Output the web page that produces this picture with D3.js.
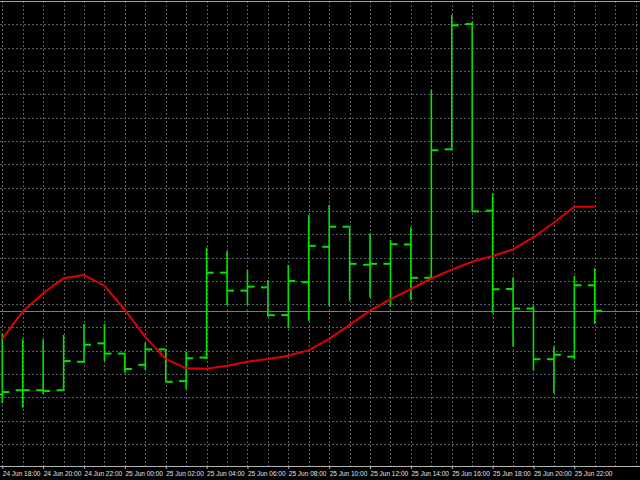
<!DOCTYPE html>
<html>
<head>
<meta charset="utf-8">
<script src="https://cdn.jsdelivr.net/npm/d3@7"></script>
<style>
  html, body { margin: 0; padding: 0; background: #000; }
  svg { display: block; }
</style>
</head>
<body>
<svg id="chart" width="640" height="480"></svg>
<script>
// ---- Data (hourly OHLC bars, values in arbitrary price units) ----
const times = [
  "2014-06-24T18:00Z","2014-06-24T19:00Z","2014-06-24T20:00Z","2014-06-24T21:00Z","2014-06-24T22:00Z","2014-06-24T23:00Z",
  "2014-06-25T00:00Z","2014-06-25T01:00Z","2014-06-25T02:00Z","2014-06-25T03:00Z","2014-06-25T04:00Z","2014-06-25T05:00Z",
  "2014-06-25T06:00Z","2014-06-25T07:00Z","2014-06-25T08:00Z","2014-06-25T09:00Z","2014-06-25T10:00Z","2014-06-25T11:00Z",
  "2014-06-25T12:00Z","2014-06-25T13:00Z","2014-06-25T14:00Z","2014-06-25T15:00Z","2014-06-25T16:00Z","2014-06-25T17:00Z",
  "2014-06-25T18:00Z","2014-06-25T19:00Z","2014-06-25T20:00Z","2014-06-25T21:00Z","2014-06-25T22:00Z","2014-06-25T23:00Z"
];
const open  = [31.3,33.1,33.1,33.1,45.3,53.2,48.8,44.0,50.6,37.0,47.1,83.5,75.8,77.2,65.3,79.4,94.6,103.2,86.9,87.3,95.6,81.3,136.4,190.1,110.1,76.5,68.1,46.4,47.5,78.1];
const high  = [57.4,55.1,54.9,56.8,61.5,61.5,48.8,53.5,50.6,49.6,94.3,92.8,84.6,80.4,86.8,108.2,112.5,103.2,100.4,97.5,103.0,161.8,194.1,191.1,117.5,81.3,69.5,51.8,82.1,85.4];
const low   = [27.5,25.6,31.5,32.9,44.9,45.6,40.6,41.8,36.6,33.5,46.5,69.6,69.6,64.6,59.6,62.8,69.1,71.4,72.9,68.9,71.8,81.3,136.0,109.6,66.1,51.8,41.5,31.8,46.4,61.5];
const close = [32.3,33.1,32.8,45.6,52.6,48.8,42.2,50.6,36.7,46.8,83.5,75.8,77.5,65.3,79.9,95.0,103.2,87.3,87.3,95.7,81.3,136.0,189.6,109.8,76.4,68.1,46.4,48.3,78.1,67.2];
const maValues = [55.2,66.8,74.7,81.1,82.5,77.9,67.5,56.0,46.5,42.5,42.3,43.6,45.3,46.5,47.9,50.3,55.1,61.1,67.2,72.2,76.5,81.0,84.8,88.2,90.7,93.5,98.7,104.9,111.8,111.8];
const tickLabels = ["24 Jun 18:00","24 Jun 20:00","24 Jun 22:00","25 Jun 00:00","25 Jun 02:00","25 Jun 04:00","25 Jun 06:00","25 Jun 08:00","25 Jun 10:00","25 Jun 12:00","25 Jun 14:00","25 Jun 16:00","25 Jun 18:00","25 Jun 20:00","25 Jun 22:00"];
const tickTimes  = ["2014-06-24T18:00Z","2014-06-24T20:00Z","2014-06-24T22:00Z","2014-06-25T00:00Z","2014-06-25T02:00Z","2014-06-25T04:00Z","2014-06-25T06:00Z","2014-06-25T08:00Z","2014-06-25T10:00Z","2014-06-25T12:00Z","2014-06-25T14:00Z","2014-06-25T16:00Z","2014-06-25T18:00Z","2014-06-25T20:00Z","2014-06-25T22:00Z"];
const priceGrid = [10,20,30,40,50,60,70,80,90,100,110,120,130,140,150,160,170,180,190];

const bars = times.map((t, i) => ({ t: new Date(t), o: open[i], h: high[i], l: low[i], c: close[i], ma: maValues[i] }));

// ---- Layout ----
const W = 640, H = 480;
const plotTop = 1, plotBottom = 466;
const t0 = new Date(times[0]);
const tEnd = new Date(t0.getTime() + 31.2 * 3600 * 1000);
const x = d3.scaleUtc().domain([t0, tEnd]).range([2.3, 639.7]);
const y = d3.scaleLinear().domain([0, 200]).range([467.4, 1]);

const svg = d3.select("#chart");
svg.append("rect").attr("width", W).attr("height", H).attr("fill", "#000");

svg.append("defs").append("clipPath").attr("id", "plotClip")
  .append("rect").attr("x", 0).attr("y", plotTop).attr("width", W).attr("height", plotBottom - plotTop);

const gridColor = "#56606c";

// vertical hourly grid
const hourTicks = x.ticks(d3.utcHour.every(1));
svg.append("g").attr("class", "vgrid")
  .selectAll("line").data(hourTicks).join("line")
  .attr("x1", d => Math.round(x(d)) + 0.5).attr("x2", d => Math.round(x(d)) + 0.5)
  .attr("y1", plotTop).attr("y2", plotBottom)
  .attr("stroke", gridColor).attr("stroke-width", 1).attr("stroke-dasharray", "2,2");

// horizontal grid
svg.append("g").attr("class", "hgrid")
  .selectAll("line").data(priceGrid).join("line")
  .attr("x1", 0).attr("x2", W)
  .attr("y1", d => Math.round(y(d)) + 0.5).attr("y2", d => Math.round(y(d)) + 0.5)
  .attr("stroke", gridColor).attr("stroke-width", 1).attr("stroke-dasharray", "2,2");

const plot = svg.append("g").attr("clip-path", "url(#plotClip)");

// bid line (last close)
plot.append("line")
  .attr("x1", 0).attr("x2", W)
  .attr("y1", Math.round(y(close[close.length - 1])) + 0.5)
  .attr("y2", Math.round(y(close[close.length - 1])) + 0.5)
  .attr("stroke", "#7a7a7a").attr("stroke-width", 1);

// OHLC bars
const barColor = "#00e400";
const tick = 7;
const gBars = plot.append("g").attr("class", "bars");
gBars.selectAll("line.hl").data(bars).join("line").attr("class", "hl")
  .attr("x1", d => x(d.t)).attr("x2", d => x(d.t))
  .attr("y1", d => y(d.h)).attr("y2", d => y(d.l))
  .attr("stroke", barColor).attr("stroke-width", 1.6);
gBars.selectAll("line.op").data(bars).join("line").attr("class", "op")
  .attr("x1", d => x(d.t) - tick).attr("x2", d => x(d.t))
  .attr("y1", d => y(d.o)).attr("y2", d => y(d.o))
  .attr("stroke", barColor).attr("stroke-width", 2);
gBars.selectAll("line.cl").data(bars).join("line").attr("class", "cl")
  .attr("x1", d => x(d.t)).attr("x2", d => x(d.t) + tick)
  .attr("y1", d => y(d.c)).attr("y2", d => y(d.c))
  .attr("stroke", barColor).attr("stroke-width", 2);

// moving average line
plot.append("path").datum(bars)
  .attr("fill", "none").attr("stroke", "#e00000").attr("stroke-width", 2)
  .attr("d", d3.line().x(d => x(d.t)).y(d => y(d.ma)));

// top border
svg.append("line").attr("x1", 0).attr("x2", W).attr("y1", 1.5).attr("y2", 1.5)
  .attr("stroke", "#a0a0a0").attr("stroke-width", 1);

// time axis
const axis = d3.axisBottom(x)
  .tickValues(tickTimes.map(s => new Date(s)))
  .tickFormat((d, i) => tickLabels[i])
  .tickSize(3).tickSizeOuter(0);
const gAxis = svg.append("g").attr("transform", `translate(0,${plotBottom})`).call(axis);
gAxis.select(".domain").attr("stroke", "#b4b4b4").attr("d", `M0,0.5H${W}`);
gAxis.selectAll(".tick line").attr("stroke", "#b4b4b4");
gAxis.selectAll(".tick text")
  .attr("fill", "#e0e0e0")
  .attr("font-family", "'Liberation Sans', Arial, sans-serif")
  .attr("font-size", "6.5px")
  .attr("text-anchor", "start")
  .attr("x", 0).attr("dy", 0).attr("y", 9.5);
</script>
</body>
</html>
